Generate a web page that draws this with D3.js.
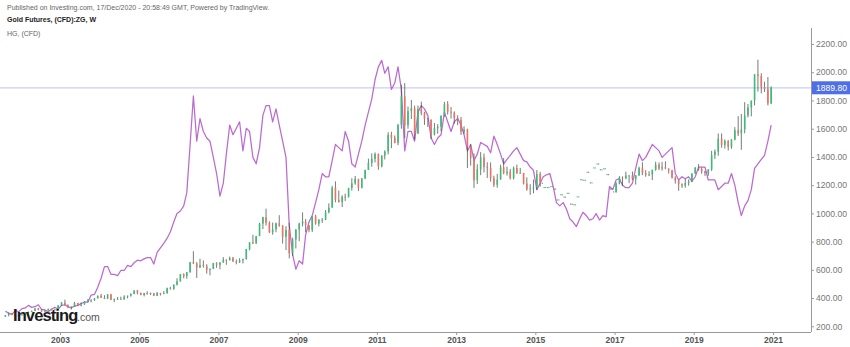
<!DOCTYPE html>
<html>
<head>
<meta charset="utf-8">
<script src="https://cdn.jsdelivr.net/npm/d3@7"></script>
<style>
  html, body { margin: 0; padding: 0; background: #fff; }
  svg { display: block; }
  text { font-family: "Liberation Sans", Arial, sans-serif; }
</style>
</head>
<body>
<svg id="chart" width="850" height="347"></svg>
<script>
// Gold Futures (CFD) monthly candles, Aug 2001 .. Dec 2020, with copper (HG) overlay
const firstMonth = [2001, 7]; // year, zero-based month of first bar

const goldOpen = [
  268,278,292,280,275,
  279,282,297,302,309,326,318,305,312,324,317,318,
  348,368,348,336,339,364,346,354,375,385,386,398,
  416,402,396,426,388,394,395,391,410,416,429,453,
  438,422,436,428,436,416,436,430,434,470,466,495,
  518,569,556,583,654,645,616,634,627,600,606,648,
  636,652,672,669,684,660,652,668,677,747,795,786,
  838,928,973,934,865,888,930,914,834,883,718,815,
  884,928,942,916,883,979,927,955,955,1008,1040,1182,
  1096,1081,1118,1113,1180,1212,1245,1181,1248,1307,1357,1386,
  1421,1333,1409,1439,1556,1536,1500,1628,1829,1624,1724,1746,
  1566,1738,1711,1669,1664,1560,1604,1614,1692,1773,1720,1713,
  1675,1663,1578,1595,1476,1393,1234,1313,1396,1328,1323,1250,
  1202,1240,1326,1284,1296,1250,1322,1282,1287,1211,1171,1175,
  1184,1279,1213,1183,1183,1190,1172,1095,1132,1115,1142,1065,
  1061,1117,1238,1234,1291,1216,1322,1350,1309,1316,1275,1173,
  1152,1211,1254,1249,1268,1269,1242,1269,1322,1284,1271,1275,
  1309,1345,1318,1327,1318,1305,1253,1233,1206,1196,1215,1226,
  1282,1325,1316,1298,1285,1311,1413,1437,1529,1485,1514,1472,
  1523,1589,1566,1596,1694,1751,1800,1986,1973,1895,1880,1780
];
const goldHigh = [
  280,296,294,286,281,
  290,300,305,312,328,330,322,316,325,324,323,350,
  372,389,356,342,373,367,369,378,392,392,400,418,
  429,420,428,430,396,408,410,420,418,434,456,458,
  438,436,448,439,433,443,437,449,474,480,496,540,
  571,575,585,655,732,655,679,667,640,611,649,654,
  653,690,674,694,692,673,682,679,748,795,848,841,
  933,976,1033,944,935,934,987,916,909,933,827,889,
  934,1007,960,915,980,990,959,967,1024,1071,1195,1227,
  1162,1128,1140,1181,1249,1265,1213,1250,1310,1388,1425,1432,
  1424,1412,1447,1575,1578,1552,1632,1911,1923,1757,1804,1764,
  1764,1792,1720,1678,1665,1640,1632,1694,1790,1795,1754,1723,
  1695,1683,1617,1600,1488,1424,1348,1434,1424,1362,1361,1267,
  1280,1345,1392,1331,1315,1332,1345,1322,1287,1255,1207,1239,
  1307,1294,1224,1225,1232,1206,1176,1170,1158,1192,1142,1088,
  1127,1263,1282,1304,1306,1362,1377,1366,1345,1318,1306,1180,
  1221,1264,1262,1296,1270,1296,1272,1331,1362,1306,1299,1309,
  1366,1361,1365,1369,1318,1309,1263,1235,1213,1245,1241,1284,
  1327,1349,1324,1302,1312,1443,1453,1566,1566,1524,1519,1526,
  1611,1689,1704,1788,1775,1797,1985,2089,1993,1933,1966,1900
];
const goldLow = [
  268,271,278,273,272,
  277,281,290,300,307,313,302,301,311,313,316,318,
  345,347,329,319,338,344,341,353,371,369,380,397,
  400,393,394,385,371,387,386,387,398,410,427,426,
  420,412,424,422,414,414,418,428,432,460,458,489,
  517,540,537,580,641,543,614,615,573,561,605,614,
  604,650,636,666,655,639,648,645,672,738,783,786,
  847,889,914,862,849,866,905,786,740,681,700,751,
  803,908,867,866,868,920,908,932,952,1000,1043,1079,
  1076,1045,1088,1115,1161,1203,1158,1177,1242,1312,1330,1361,
  1309,1326,1382,1418,1462,1496,1483,1600,1532,1600,1668,1523,
  1563,1695,1627,1612,1527,1552,1565,1582,1685,1700,1672,1635,
  1625,1555,1563,1321,1338,1180,1208,1271,1290,1251,1225,1187,
  1182,1239,1277,1268,1240,1240,1282,1280,1204,1160,1131,1142,
  1167,1190,1142,1170,1170,1162,1077,1085,1098,1137,1053,1046,
  1062,1111,1208,1208,1199,1199,1310,1302,1305,1241,1171,1123,
  1146,1206,1195,1242,1214,1236,1204,1266,1271,1260,1264,1236,
  1302,1307,1303,1312,1282,1247,1211,1160,1180,1182,1196,1221,
  1280,1302,1281,1266,1266,1301,1385,1408,1465,1459,1445,1457,
  1517,1548,1450,1567,1680,1687,1765,1863,1850,1860,1764,1774
];
const goldClose = [
  278,292,280,275,279,
  282,297,302,309,326,318,305,312,324,317,318,348,
  368,348,336,339,364,346,354,375,385,386,398,416,
  402,396,426,388,394,395,391,410,416,429,453,438,
  422,436,428,436,416,436,430,434,470,466,495,518,
  569,556,583,654,645,616,634,627,600,606,648,636,
  652,672,669,684,660,652,668,677,747,795,786,838,
  928,973,934,865,888,930,914,834,883,718,815,884,
  928,942,916,883,979,927,955,955,1008,1040,1182,1096,
  1081,1118,1113,1180,1212,1245,1181,1248,1307,1357,1386,1421,
  1333,1409,1439,1556,1536,1500,1628,1829,1624,1724,1746,1566,
  1738,1711,1669,1664,1560,1604,1614,1692,1773,1720,1713,1675,
  1663,1578,1595,1476,1393,1234,1313,1396,1328,1323,1250,1202,
  1240,1326,1284,1296,1250,1322,1282,1287,1211,1171,1175,1184,
  1279,1213,1183,1183,1190,1172,1095,1132,1115,1142,1065,1061,
  1117,1238,1234,1291,1216,1322,1350,1309,1316,1275,1173,1152,
  1211,1254,1249,1268,1269,1242,1269,1322,1284,1271,1275,1309,
  1345,1318,1327,1318,1305,1253,1233,1206,1196,1215,1226,1282,
  1325,1316,1298,1285,1311,1413,1437,1529,1485,1514,1472,1523,
  1589,1566,1596,1694,1751,1800,1986,1973,1895,1880,1780,1890
];

// months where the feed only has scattered prints (drawn as dots)
const thinFeed = [new Date(2015, 2, 1), new Date(2016, 11, 31)];

// Copper (HG) monthly, USD per lb
const copper = [
  0.67,0.64,0.62,0.68,0.66,
  0.71,0.72,0.76,0.73,0.74,0.77,0.70,0.69,0.66,0.70,0.73,0.70,
  0.76,0.77,0.74,0.72,0.75,0.76,0.79,0.81,0.81,0.92,0.93,1.04,
  1.18,1.36,1.36,1.24,1.24,1.22,1.30,1.30,1.38,1.36,1.42,1.46,
  1.45,1.48,1.50,1.50,1.40,1.58,1.65,1.72,1.80,1.90,2.05,2.18,
  2.22,2.30,2.50,3.25,4.00,3.30,3.65,3.45,3.35,3.30,3.05,2.80,
  2.45,2.65,3.10,3.55,3.40,3.50,3.60,3.15,3.50,3.45,3.05,2.95,
  3.20,3.70,3.85,3.85,3.60,3.80,3.55,3.30,3.05,2.00,1.55,1.32,
  1.45,1.40,1.85,2.05,2.15,2.35,2.55,2.80,2.75,2.75,3.00,3.25,
  3.20,3.15,3.45,3.30,2.95,2.90,3.10,3.30,3.55,3.75,3.95,4.25,
  4.45,4.55,4.35,4.45,4.10,4.20,4.45,4.10,3.15,3.45,3.45,3.30,
  3.75,3.85,3.80,3.70,3.35,3.25,3.35,3.40,3.75,3.60,3.45,3.60,
  3.65,3.55,3.40,3.15,3.25,3.00,3.10,3.28,3.25,3.22,3.12,3.38,
  3.25,3.10,2.95,3.02,3.08,3.15,3.20,3.10,3.00,2.98,2.90,2.85,
  2.55,2.65,2.75,2.78,2.80,2.60,2.35,2.30,2.35,2.25,2.10,2.05,
  1.98,2.10,2.20,2.15,2.08,2.10,2.18,2.08,2.15,2.13,2.60,2.55,
  2.70,2.72,2.62,2.58,2.58,2.65,2.88,3.10,3.00,3.05,3.15,3.25,
  3.20,3.15,3.05,3.10,3.15,3.20,2.80,2.70,2.75,2.72,2.75,2.68,
  2.75,2.90,2.90,2.90,2.70,2.70,2.70,2.55,2.60,2.65,2.65,2.80,
  2.62,2.35,2.15,2.30,2.38,2.55,2.88,2.95,3.02,3.08,3.30,3.55
];

const priceTicks = [200,400,600,800,1000,1200,1400,1600,1800,2000,2200];
const yearTicks = [2003,2005,2007,2009,2011,2013,2015,2017,2019,2021];
const lastPrice = 1889.80;
const headerLines = [
  "Published on Investing.com, 17/Dec/2020 - 20:58:49 GMT, Powered by TradingView.",
  "Gold Futures, (CFD):ZG, W",
  "HG, (CFD)"
];

// ---------- layout ----------
const plotRight = 811, plotBottom = 332, plotTop = 28;
const upColor = "#3dbb78", downColor = "#ee7263";

const svg = d3.select("#chart");

const dates = goldClose.map((_, i) => new Date(firstMonth[0], firstMonth[1] + i, 15));
const bars = dates.map((d, i) => ({
  date: d, o: goldOpen[i], h: goldHigh[i], l: goldLow[i], c: goldClose[i], cu: copper[i],
  thin: d >= thinFeed[0] && d <= thinFeed[1]
}));

const x = d3.scaleTime()
  .domain([new Date(2003, 0, 1), new Date(2021, 0, 1)])
  .range([60, 773]);
const y = d3.scaleLinear().domain([200, 2200]).range([326.3, 44]);
// copper overlay shares the pane, scaled to its own range
const yCu = d3.scaleLinear().domain([200 / 458, 2200 / 458]).range([326.3, 44]);

svg.append("defs").append("clipPath").attr("id", "pane")
  .append("rect").attr("x", 0).attr("y", plotTop).attr("width", plotRight).attr("height", plotBottom - plotTop);

// last price line
svg.append("line")
  .attr("x1", 0).attr("x2", plotRight)
  .attr("y1", y(lastPrice)).attr("y2", y(lastPrice))
  .attr("stroke", "#c9cff6").attr("stroke-width", 1.2);

const pane = svg.append("g").attr("clip-path", "url(#pane)");

// copper line
pane.append("path")
  .datum(bars)
  .attr("fill", "none")
  .attr("stroke", "#bb6ad0")
  .attr("stroke-width", 1.25)
  .attr("stroke-linejoin", "round")
  .attr("d", d3.line().x(d => x(d.date)).y(d => yCu(d.cu)));

// gold candles
const full = bars.filter(d => !d.thin);
const candle = pane.append("g").selectAll("g").data(full).join("g");
candle.append("line")
  .attr("x1", d => x(d.date)).attr("x2", d => x(d.date))
  .attr("y1", d => y(d.h)).attr("y2", d => y(d.l))
  .attr("stroke", "#37463b").attr("stroke-width", 0.7);
candle.append("rect")
  .attr("x", d => x(d.date) - 0.8)
  .attr("width", 1.6)
  .attr("y", d => y(Math.max(d.o, d.c)))
  .attr("height", d => Math.max(0.8, Math.abs(y(d.o) - y(d.c))))
  .attr("fill", d => d.c >= d.o ? upColor : downColor);

// sparse prints: small dots at open and close
const sparse = bars.filter(d => d.thin);
pane.append("g").selectAll("rect").data(sparse.flatMap(d => [
    { date: d.date, v: d.o, up: d.c >= d.o, dx: -0.9 },
    { date: d.date, v: d.c, up: d.c >= d.o, dx: 0.9 }
  ])).join("rect")
  .attr("x", d => x(d.date) + d.dx - 0.6)
  .attr("y", d => y(d.v) - 0.6)
  .attr("width", 1.2).attr("height", 1.2)
  .attr("fill", d => d.up ? upColor : "#6f7a72")
  .attr("opacity", 0.85);

// bottom axis
const xAxis = svg.append("g")
  .attr("transform", `translate(0,${plotBottom})`)
  .call(d3.axisBottom(x)
    .tickValues(yearTicks.map(yr => new Date(yr, 0, 1)))
    .tickFormat(d3.timeFormat("%Y"))
    .tickSize(3).tickSizeOuter(0));
xAxis.select(".domain").attr("stroke", "#999").attr("d", `M0,0.5H${plotRight}`);
xAxis.selectAll(".tick line").attr("stroke", "#999");
xAxis.selectAll(".tick text")
  .attr("y", 5).attr("fill", "#555")
  .attr("font-size", 8.5).attr("font-weight", "bold")
  .style("font-family", "'Liberation Sans', Arial, sans-serif");

// right price axis
const yAxis = svg.append("g")
  .attr("transform", `translate(${plotRight},0)`)
  .call(d3.axisRight(y).tickValues(priceTicks).tickFormat(d3.format(".2f")).tickSize(3).tickSizeOuter(0));
yAxis.select(".domain").attr("stroke", "#999").attr("d", `M0.5,${plotTop}V${plotBottom}`);
yAxis.selectAll(".tick line").attr("stroke", "#999");
yAxis.selectAll(".tick text")
  .attr("x", 5).attr("fill", "#777").attr("font-size", 8.6)
  .style("font-family", "'Liberation Sans', Arial, sans-serif");

// last price badge
const badge = svg.append("g").attr("transform", `translate(${plotRight + 1},${y(lastPrice)})`);
badge.append("rect").attr("x", 0).attr("y", -6.5).attr("width", 38).attr("height", 13).attr("fill", "#4f6fe6");
badge.append("text").attr("x", 4).attr("y", 3.2).attr("fill", "#fff").attr("font-size", 8.6)
  .text(d3.format(".2f")(lastPrice));

// header
svg.append("g").selectAll("text").data(headerLines).join("text")
  .attr("x", 7).attr("y", (d, i) => [10, 22, 36][i])
  .attr("font-size", 7)
  .attr("font-weight", (d, i) => i === 1 ? "bold" : "normal")
  .attr("fill", (d, i) => i === 1 ? "#222" : "#666")
  .text(d => d);

// logo
const logo = svg.append("g");
logo.append("text").attr("x", 13).attr("y", 321)
  .attr("font-size", 16.5).attr("font-weight", "bold").attr("letter-spacing", -0.9)
  .attr("fill", "#1b1b1b").text("Investing");
logo.append("text").attr("x", 77).attr("y", 321)
  .attr("font-size", 10.5).attr("fill", "#555").text(".com");
</script>
</body>
</html>
